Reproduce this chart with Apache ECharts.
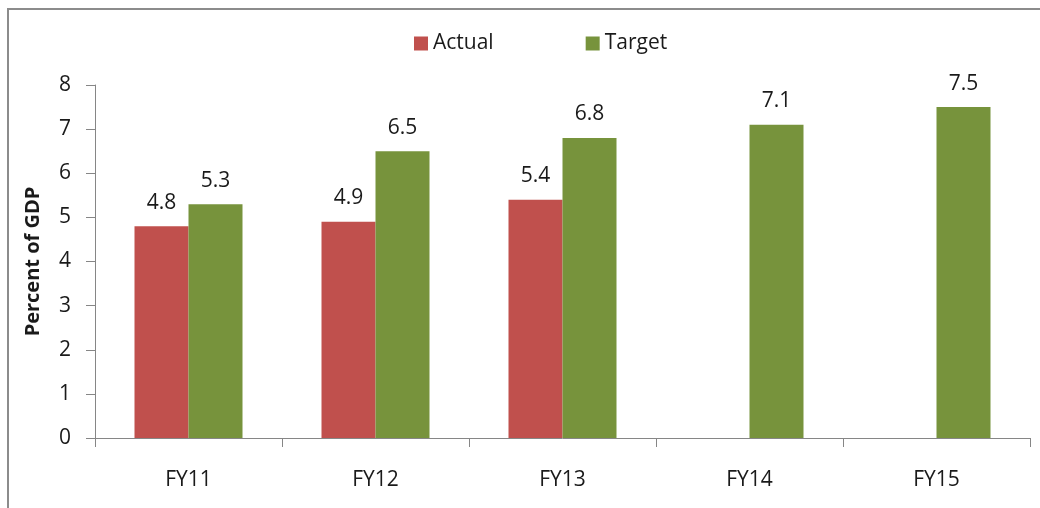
<!DOCTYPE html>
<html>
<head>
<meta charset="utf-8">
<script src="https://cdn.jsdelivr.net/npm/echarts@6/dist/echarts.min.js"></script>
<style>
  html, body { margin: 0; padding: 0; background: #fff; }
  #chart { width: 1040px; height: 508px; }
</style>
</head>
<body>
<div id="chart"></div>
<script>
var years = ['FY11', 'FY12', 'FY13', 'FY14', 'FY15'];
var actual = [4.8, 4.9, 5.4, null, null];
var target = [5.3, 6.5, 6.8, 7.1, 7.5];
var yTicks = [0, 8, 1]; // min, max, step

var font = '"Open Sans", "Liberation Sans", sans-serif';
var axisGray = '#868686';

var chart = echarts.init(document.getElementById('chart'));

var labelStyle = {
    show: true,
    position: 'top',
    distance: 13,
    color: '#1a1a1a',
    fontFamily: font,
    fontSize: 21
};

chart.setOption({
    animation: false,
    textStyle: { fontFamily: font },
    graphic: [{
        type: 'rect',
        shape: { x: 8, y: 9, width: 1100, height: 600 },
        style: { fill: 'none', stroke: '#8c8c8c', lineWidth: 2 }
    }],
    legend: {
        top: 28,
        left: 409,
        itemWidth: 14,
        itemHeight: 14,
        itemGap: 92,
        icon: 'rect',
        textStyle: { fontSize: 21, color: '#1a1a1a', fontFamily: font },
        data: ['Actual', 'Target']
    },
    grid: { left: 95, top: 85, right: 10, bottom: 70 },
    xAxis: {
        type: 'category',
        data: years,
        axisLine: { lineStyle: { color: axisGray, width: 1 } },
        axisTick: { show: true, length: 9, lineStyle: { color: axisGray } },
        axisLabel: { color: '#1a1a1a', fontSize: 21, margin: 32, fontFamily: font }
    },
    yAxis: {
        type: 'value',
        min: yTicks[0],
        max: yTicks[1],
        interval: yTicks[2],
        name: 'Percent of GDP',
        nameLocation: 'middle',
        nameGap: 52,
        nameRotate: 90,
        nameTextStyle: { fontSize: 20, fontWeight: 'bold', color: '#1a1a1a', fontFamily: font },
        axisLine: { show: true, lineStyle: { color: axisGray, width: 1 } },
        axisTick: { show: true, length: 9, lineStyle: { color: axisGray } },
        axisLabel: { color: '#1a1a1a', fontSize: 21, margin: 24, fontFamily: font },
        splitLine: { show: false }
    },
    series: [{
        name: 'Actual',
        type: 'bar',
        data: actual,
        barWidth: 54,
        barGap: '0%',
        itemStyle: { color: '#C0504D' },
        label: labelStyle
    }, {
        name: 'Target',
        type: 'bar',
        data: target,
        barWidth: 54,
        barGap: '0%',
        itemStyle: { color: '#77933C' },
        label: labelStyle
    }]
});
</script>
</body>
</html>
